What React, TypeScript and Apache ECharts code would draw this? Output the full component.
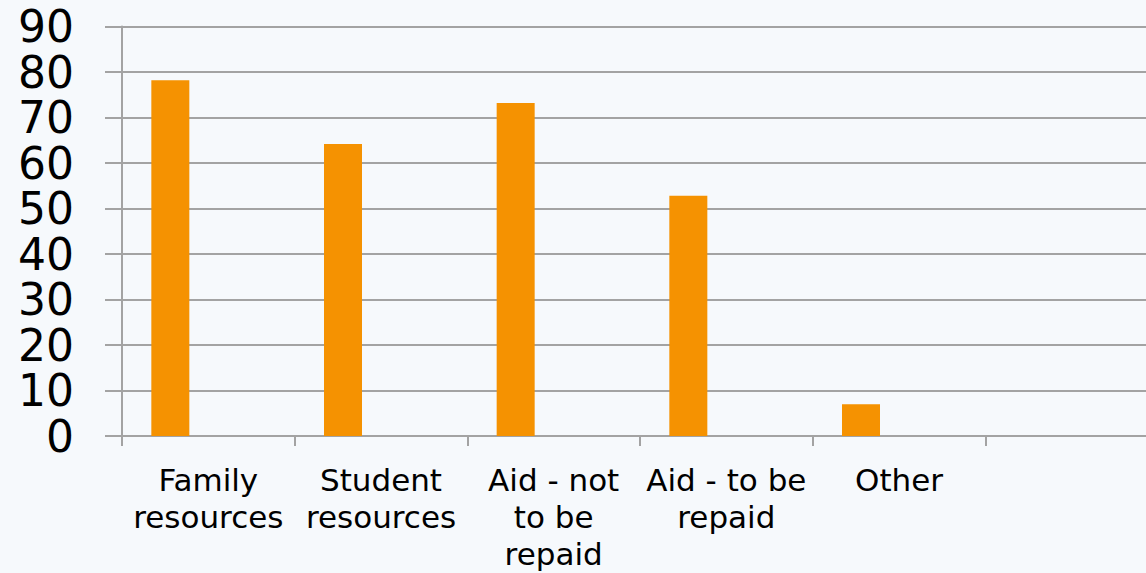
import React, { useEffect, useRef } from "react";
import * as echarts from "echarts";

const categories = [
  "Family\nresources",
  "Student\nresources",
  "Aid - not\nto be\nrepaid",
  "Aid - to be\nrepaid",
  "Other",
  "",
];
const seriesValues = [78.2, 64.2, 73.2, 52.8, 7.0, null];
const emptySeries = [null, null, null, null, null, null];
const yMin = 0;
const yMax = 90;
const yInterval = 10;

export default function App() {
  const ref = useRef<HTMLDivElement>(null);
  useEffect(() => {
    if (!ref.current) return;
    document.body.style.overflow = "hidden";
    document.documentElement.style.overflow = "hidden";
    const chart = echarts.init(ref.current, undefined, { renderer: "svg" });
    const gray = "#a3a3a3";
    chart.setOption({
      animation: false,
      backgroundColor: "#f6f9fc",
      textStyle: { fontFamily: "DejaVu Sans" },
      grid: { left: 122, top: 26.5, bottom: 137, right: 0, containLabel: false },
      xAxis: {
        type: "category",
        data: categories,
        axisLine: { show: true, lineStyle: { color: gray, width: 2 } },
        axisTick: { show: true, length: 10, interval: 0, lineStyle: { color: gray, width: 2 } },
        axisLabel: {
          interval: 0,
          color: "#000",
          fontSize: 31,
          lineHeight: 37,
          margin: 25,
          fontFamily: "DejaVu Sans",
        },
        splitLine: { show: false },
      },
      yAxis: {
        type: "value",
        min: yMin,
        max: yMax,
        interval: yInterval,
        axisLine: { show: true, lineStyle: { color: gray, width: 2 } },
        axisTick: { show: true, length: 17, lineStyle: { color: gray, width: 2 } },
        axisLabel: {
          color: "#000",
          fontSize: 44,
          lineHeight: 40,
          margin: 48,
          showMinLabel: true,
          showMaxLabel: true,
          hideOverlap: false,
          fontFamily: "DejaVu Sans",
        },
        splitLine: { show: true, lineStyle: { color: gray, width: 2 } },
      },
      series: [
        {
          type: "bar",
          data: seriesValues,
          barWidth: 38,
          barGap: "100%",
          itemStyle: { color: "#f59201" },
        },
        {
          type: "bar",
          data: emptySeries,
          barWidth: 38,
          itemStyle: { color: "#4f81bd" },
        },
      ],
    });
    return () => chart.dispose();
  }, []);
  return (
    <div
      ref={ref}
      style={{ position: "fixed", left: 0, top: 0, width: 1158, height: 573 }}
    />
  );
}
